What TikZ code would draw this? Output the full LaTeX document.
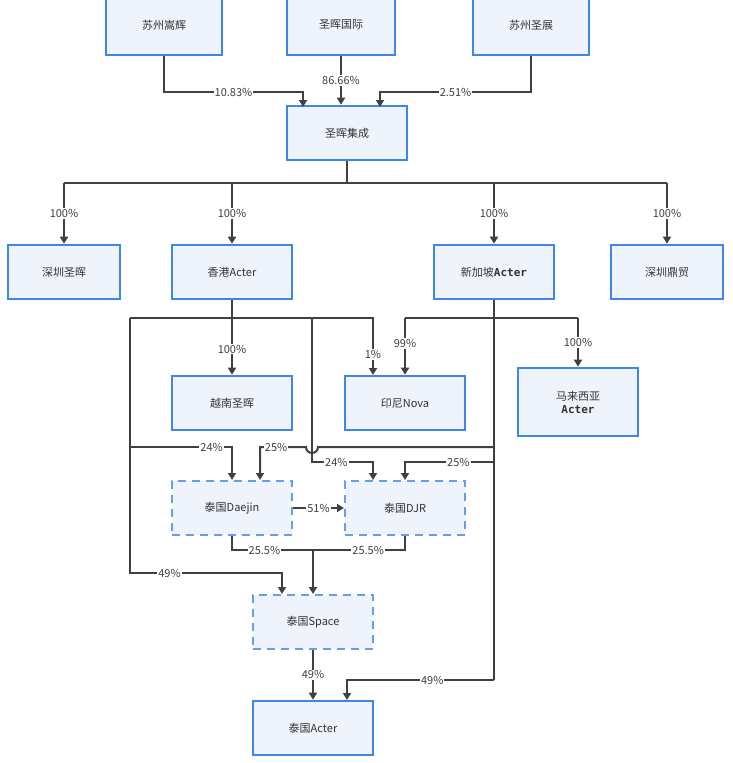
\documentclass[tikz,border=0pt]{standalone}
\usepackage{fontspec}
\setmainfont{Noto Sans CJK SC}
\newfontfamily\monob{DejaVu Sans Mono}[BoldFont={DejaVu Sans Mono Bold}]
\usetikzlibrary{arrows.meta}
\definecolor{bfill}{HTML}{EEF3FC}
\definecolor{bline}{HTML}{3F86E6}
\definecolor{eline}{HTML}{404040}
\begin{document}
\begin{tikzpicture}[x=1pt,y=-1pt,
 box/.style={draw=bline,line width=2.6pt,fill=bfill,minimum width=116pt,minimum height=54pt,font=\fontsize{11}{13}\selectfont,text=black!80,inner sep=2pt,align=center},
 dbox/.style={box,dashed,dash pattern=on 8pt off 6pt,line width=2pt,draw=bline!80},
 e/.style={draw=eline,line width=2pt},
 a/.style={e,-{Triangle[length=7pt,width=8pt]}},
 lab/.style={fill=white,inner sep=1pt,text=black!75,font=\fontsize{11}{13}\selectfont}]
\useasboundingbox (0,0) rectangle (732,763);
\node[box,minimum height=60pt] (sh) at (164,25) {苏州嵩辉};
\node[box,minimum width=108pt,minimum height=60pt] (gj) at (341,25) {圣晖国际};
\node[box,minimum height=60pt] (sz) at (531,25) {苏州圣展};
\node[box,minimum width=120pt] (jc) at (347,133) {圣晖集成};
\node[box,minimum width=112pt] (szsh) at (64,272) {深圳圣晖};
\node[box,minimum width=120pt] (hk) at (232,272) {香港Acter};
\node[box,minimum width=120pt] (sg) at (494,272) {新加坡{\monob\bfseries Acter}};
\node[box,minimum width=112pt] (dm) at (667,272) {深圳鼎贸};
\node[box,minimum width=120pt] (vn) at (232,403) {越南圣晖};
\node[box,minimum width=120pt] (id) at (405,403) {印尼Nova};
\node[box,minimum width=120pt,minimum height=68pt] (my) at (578,402) {马来西亚\\{\monob\bfseries Acter}};
\node[dbox,minimum width=120pt] (dj) at (232,508) {泰国Daejin};
\node[dbox,minimum width=120pt] (djr) at (405,508) {泰国DJR};
\node[dbox,minimum width=120pt] (sp) at (313,622) {泰国Space};
\node[box,minimum width=120pt] (ta) at (313,728) {泰国Acter};
\coordinate (j1) at (347,183);
% top
\draw[a] (sh.south) |- (303,92) node[lab,pos=0.75]{10.83\%} -- (303,107);
\draw[a] (gj.south) -- node[lab]{86.66\%} (gj.south|-jc.north);
\draw[a] (sz.south) |- (380,92) node[lab,pos=0.75]{2.51\%} -- (380,107);
\draw[e] (jc.south) -- (j1);
\draw[e] (64,183) -- (667,183);
\foreach \n in {szsh,hk,sg,dm}{\draw[a] (\n.north|-j1) -- node[lab]{100\%} (\n.north);}
% HK
\draw[e] (hk.south) -- (232,318);
\draw[e] (130,318) -- (312,318);
\draw[a] (312,318) -| node[lab,pos=0.82]{1\%} (373,375);
\draw[a] (232,318) -- node[lab,pos=0.55]{100\%} (vn.north);
\draw[a] (130,318) |- (282,573) node[lab,pos=0.63]{49\%} -- (282,594);
\draw[a] (130,447) -| node[lab,pos=0.4]{24\%} (232,480);
\draw[a] (312,318) |- (373,462) node[lab,pos=0.7]{24\%} -- (373,480);
% SG
\draw[e] (sg.south) -- (494,680);
\draw[e] (405,318) -- (578,318);
\draw[a] (405,318) -- node[lab,pos=0.45]{99\%} (id.north);
\draw[a] (578,318) -- node[lab,pos=0.5]{100\%} (my.north);
\draw[a] (494,447) -- (318,447) arc[start angle=0,end angle=180,radius=6] -- (260,447) node[lab,pos=0.65]{25\%} -- (260,480);
\draw[a] (494,462) -- (405,462) node[lab,pos=0.4]{25\%} -- (405,480);
\draw[a] (494,680) -- (347,680) node[lab,pos=0.42]{49\%} -- (347,700);
% Thailand
\draw[a] (dj.east) -- node[lab]{51\%} (djr.west);
\draw[e] (dj.south) |- (313,550) node[lab,pos=0.7]{25.5\%};
\draw[e] (djr.south) |- (313,550) node[lab,pos=0.7]{25.5\%};
\draw[a] (313,550) -- (sp.north);
\draw[a] (sp.south) -- node[lab]{49\%} (ta.north);
\end{tikzpicture}
\end{document}
